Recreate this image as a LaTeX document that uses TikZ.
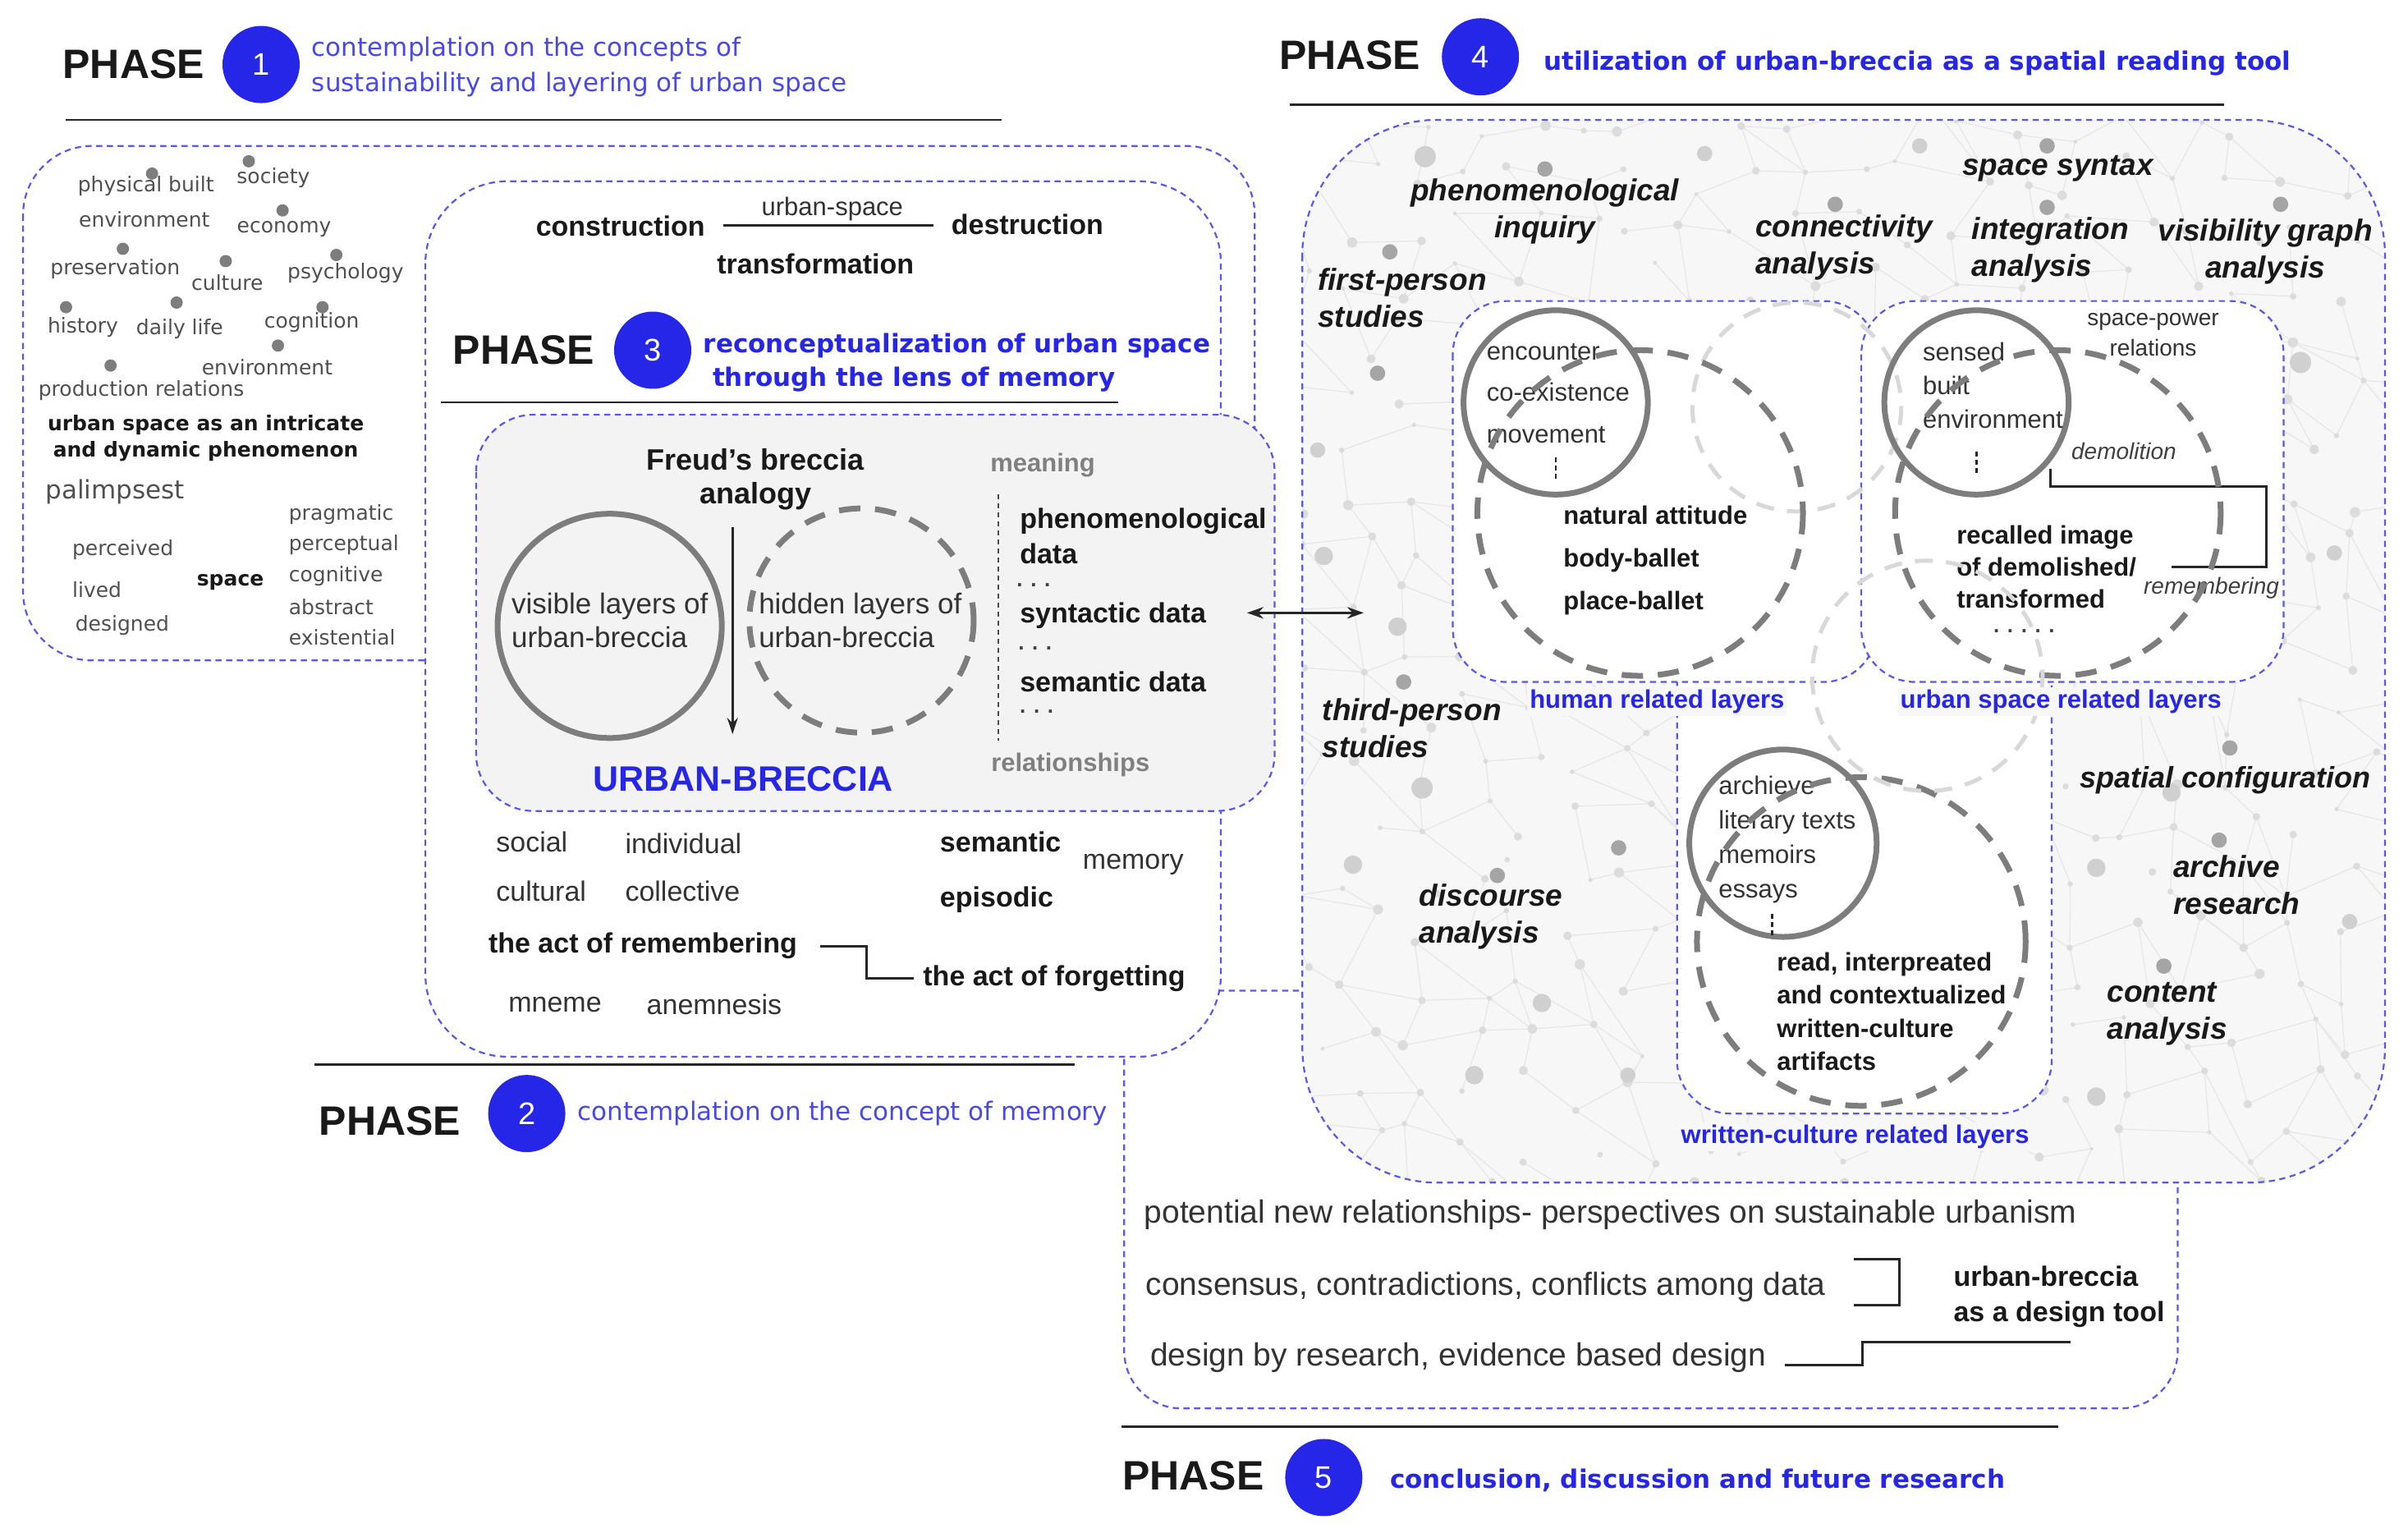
\documentclass[tikz,border=0pt]{standalone}
\usepackage{fontspec}
\setmainfont{Liberation Sans}
\newfontfamily\verd{DejaVu Sans}
\usetikzlibrary{arrows.meta,calc}
\definecolor{pblue}{RGB}{38,38,232}
\definecolor{tblue}{RGB}{72,72,236}
\definecolor{dblue}{RGB}{88,88,236}
\definecolor{cgray}{RGB}{125,125,125}
\definecolor{lgray}{RGB}{216,216,216}
\definecolor{tgray}{RGB}{80,80,80}
\definecolor{bgfill}{RGB}{247,247,247}
\definecolor{brfill}{RGB}{243,243,243}
\definecolor{netline}{RGB}{231,231,231}
\definecolor{netdot}{RGB}{220,220,220}
\definecolor{netdark}{RGB}{165,165,165}
\definecolor{netlight}{RGB}{208,208,208}
\tikzset{
 ph/.style={font=\bfseries\fontsize{50}{60}\selectfont, text=black!90},
 pnum/.style={circle, fill=pblue, minimum size=94pt, inner sep=0pt, text=white, font=\fontsize{38}{40}\selectfont},
 pd/.style={font=\verd\fontsize{31}{43}\selectfont, text=tblue, align=left, anchor=west},
 pdb/.style={font=\verd\bfseries\fontsize{31}{43}\selectfont, text=pblue, anchor=west},
 hline/.style={line width=2.8pt, black!85},
 pbox/.style={draw=dblue, line width=2.2pt, dash pattern=on 7.5pt off 5.5pt},
 wd/.style={font=\verd\fontsize{25}{30}\selectfont, text=tgray},
 wdb/.style={font=\verd\bfseries\fontsize{25}{32}\selectfont, text=black!90, align=center},
 pdot/.style={fill=cgray},
 t2/.style={font=\fontsize{34}{40}\selectfont, text=black!80, anchor=west},
 t2b/.style={font=\bfseries\fontsize{34}{40}\selectfont, text=black!90, anchor=west},
 t3/.style={font=\fontsize{31}{40}\selectfont, text=black!80},
 t3b/.style={font=\bfseries\fontsize{34}{43}\selectfont, text=black!90},
 gb/.style={font=\bfseries\fontsize{31}{40}\selectfont, text=black!50},
 t4/.style={font=\bfseries\itshape\fontsize{37}{45}\selectfont, text=black!90, align=left},
 s31/.style={font=\fontsize{31}{42}\selectfont, text=black!80, align=left, anchor=west},
 s31b/.style={font=\bfseries\fontsize{31}{40}\selectfont, text=black!90, align=left, anchor=west},
 s28/.style={font=\fontsize{28}{37}\selectfont, text=black!80, align=center},
 s28i/.style={font=\itshape\fontsize{28}{37}\selectfont, text=black!75},
 lbl/.style={font=\bfseries\fontsize{31}{36}\selectfont, text=pblue, fill=bgfill, inner sep=3pt},
 t5/.style={font=\fontsize{39}{45}\selectfont, text=black!80, anchor=west},
 t5b/.style={font=\bfseries\fontsize{34}{43}\selectfont, text=black!90, align=left, anchor=west},
 dts/.style={font=\bfseries\fontsize{26}{30}\selectfont, text=black!75},
 conn/.style={line width=3pt, black!85},
 solidc/.style={draw=cgray, line width=7pt},
 dashc/.style={draw=cgray, line width=7pt, dash pattern=on 26pt off 18pt},
 lightc/.style={draw=lgray, line width=5pt, dash pattern=on 22pt off 16pt},
 vdash/.style={line width=2pt, black!70, dash pattern=on 6pt off 5pt},
 vdash2/.style={line width=2.5pt, black!85, dash pattern=on 6pt off 4pt},
}
\begin{document}
\begin{tikzpicture}[x=1.8706pt,y=-1.8706pt, every node/.style={inner sep=0pt}]
\useasboundingbox (0,0) rectangle (1568,998);
\fill[white] (0,0) rectangle (1568,998);

% ---------------- phase 5 box (behind)
\draw[pbox, rounded corners=70pt] (732,645) rectangle (1418,917);

% ---------------- phase 4 box with network background
\begin{scope}
\clip[rounded corners=165pt] (848,78) rectangle (1553,770);
\fill[bgfill] (848,78) rectangle (1553,770);
\pgfmathsetseed{4242}
\foreach \i in {0,...,20}{
 \foreach \j in {0,...,20}{
  \pgfmathsetmacro\xx{836+\i*36+rnd*28}
  \pgfmathsetmacro\yy{66+\j*35+rnd*28}
  \coordinate (g-\i-\j) at (\xx,\yy);
 }}
\foreach \i in {0,...,19}{
 \foreach \j in {0,...,19}{
  \pgfmathtruncatemacro\ii{\i+1}
  \pgfmathtruncatemacro\jj{\j+1}
  \pgfmathtruncatemacro\ra{rnd<0.55}
  \pgfmathtruncatemacro\rb{rnd<0.55}
  \pgfmathtruncatemacro\rc{rnd<0.25}
  \ifnum\ra=1 \draw[netline, line width=1.3pt] (g-\i-\j) -- (g-\ii-\j); \fi
  \ifnum\rb=1 \draw[netline, line width=1.3pt] (g-\i-\j) -- (g-\i-\jj); \fi
  \ifnum\rc=1 \draw[netline, line width=1.3pt] (g-\i-\j) -- (g-\ii-\jj); \fi
 }}
\foreach \i in {0,...,20}{
 \foreach \j in {0,...,20}{
  \pgfmathsetmacro\rr{1.2+rnd*2.2}
  \fill[netdot] (g-\i-\j) circle [radius=\rr];
 }}
\foreach \x/\y/\r in {928/102/7, 926/513/7, 881/563/6, 1004/653/6, 1365/565/6, 1365/714/6, 1498/236/7, 858/293/5, 862/362/6, 910/408/6, 1520/360/5, 1414/516/6, 960/700/6, 1060/700/5, 1110/100/5, 1530/600/5, 1250/95/5}
  \fill[netlight] (\x,\y) circle [radius=\r];
\foreach \x/\y in {1006/110, 1333/95, 1195/133, 1333/135, 1485/133, 905/164, 897/243, 914/444, 1054/552, 975/570, 1452/487, 1445/547, 1409/629}
  \fill[netdark] (\x,\y) circle [radius=5];
\end{scope}
\draw[pbox, rounded corners=165pt] (848,78) rectangle (1553,770);

% ---------------- phase 1 box
\draw[pbox, rounded corners=84pt, fill=white] (15,95) rectangle (817,430);
% ---------------- phase 2/3 box
\draw[pbox, rounded corners=100pt, fill=white] (277,118) rectangle (795,688);
% ---------------- breccia box
\draw[pbox, rounded corners=70pt, fill=brfill] (310,270) rectangle (830,528);

% ---------------- phase headers
\node[ph] (ph1) at (87,42) {PHASE};
\node[pnum] (n1) at (170,42) {1};
\node[pd] (d1) at (203,43.5) {contemplation on the concepts of\\sustainability and layering of urban space};
\draw[hline] (43,78) -- (652,78);

\node[ph] (ph4) at (879,36) {PHASE};
\node[pnum] (n4) at (964,37) {4};
\node[pdb] (d4) at (1005,41) {utilization of urban-breccia as a spatial reading tool};
\draw[hline] (840,68) -- (1448,68);

\node[ph] (ph3) at (341,228) {PHASE};
\node[pnum] (n3) at (425,228) {3};
\node[pdb] (d3a) at (458,225) {reconceptualization of urban space};
\node[pdb] (d3b) at (464,247) {through the lens of memory};
\draw[hline] (287,262) -- (728,262);

\draw[hline] (205,693) -- (700,693);
\node[ph] (ph2) at (254,730) {PHASE};
\node[pnum] (n2) at (343,725) {2};
\node[pd] (d2) at (376,725) {contemplation on the concept of memory};

\draw[hline] (730,929) -- (1340,929);
\node[ph] (ph5) at (777,961) {PHASE};
\node[pnum] (n5) at (862,962) {5};
\node[pdb] (d5) at (905,964) {conclusion, discussion and future research};

% ---------------- phase 1 content
\foreach \x/\y in {99/113, 162/105, 184/137, 80/162, 147/170, 219/166, 43/200, 115/197, 210/200, 181/225, 72/238}
  \fill[pdot] (\x,\y) circle [radius=4];
\node[wd] (w1) at (95,121) {physical built};
\node[wd] (w2) at (94,143) {environment};
\node[wd] (w3) at (178,116) {society};
\node[wd] (w4) at (185,149) {economy};
\node[wd] (w5) at (75,175) {preservation};
\node[wd] (w6) at (148,184) {culture};
\node[wd] (w7) at (225,178) {psychology};
\node[wd] (w8) at (54,213) {history};
\node[wd] (w9) at (117,214) {daily life};
\node[wd] (w10) at (203,210) {cognition};
\node[wd] (w11) at (174,239) {environment};
\node[wd] (w12) at (92,254) {production relations};
\node[wdb] (w13) at (134,285.5) {urban space as an intricate\\and dynamic phenomenon};
\node[wd, font=\verd\fontsize{31}{36}\selectfont] (w14) at (75,320) {palimpsest};
\node[wd, anchor=west] (w15) at (47,358) {perceived};
\node[wd, anchor=west] (w16) at (47,384) {lived};
\node[wd, anchor=west] (w17) at (49,407) {designed};
\node[wd, text=black!90, font=\verd\bfseries\fontsize{25}{30}\selectfont] (w18) at (150,379) {space};
\node[wd, anchor=west] (w19) at (188,335) {pragmatic};
\node[wd, anchor=west] (w20) at (188,355) {perceptual};
\node[wd, anchor=west] (w21) at (188,375) {cognitive};
\node[wd, anchor=west] (w22) at (188,395) {abstract};
\node[wd, anchor=west] (w23) at (188,415) {existential};

% ---------------- phase 3 top
\node[t3b] (constr) at (404,147) {construction};
\node[t3] (uspace) at (542,136) {urban-space};
\node[t3b] (destr) at (669,146) {destruction};
\node[t3b] (transf) at (531,172) {transformation};
\draw[conn, shorten <=22pt, shorten >=22pt] (constr.east) -- (constr.east -| destr.west);

% ---------------- breccia box content
\node[t3b, align=center, font=\bfseries\fontsize{36}{41}\selectfont] (freud) at (492,312) {Freud's breccia\\analogy};
\draw[solidc] (397,407.5) circle [radius=73];
\draw[dashc] (561,404) circle [radius=73];
\node[s31, font=\fontsize{35}{41}\selectfont] (vis) at (333,404) {visible layers of\\urban-breccia};
\node[s31, font=\fontsize{35}{41}\selectfont] (hid) at (494,404) {hidden layers of\\urban-breccia};
\coordinate (arrA) at (477,343);
\coordinate (arrB) at (477,478);
\draw[conn, line width=2.6pt, -{Stealth[length=20pt,width=13pt]}] (arrA) -- (arrB);
\node[gb] (meaning) at (679,303) {meaning};
\coordinate (vA) at (650,322);
\coordinate (vB) at (650,482);
\draw[vdash] (vA) -- (vB);
\node[t3b, align=left, anchor=west] (phd) at (664,349) {phenomenological\\data};
\node[dts] (dt1) at (673,381) {. . .};
\node[t3b, anchor=west] (syn) at (664,401) {syntactic data};
\node[dts] (dt2) at (674,422) {. . .};
\node[t3b, anchor=west] (sem) at (664,444) {semantic data};
\node[dts] (dt3) at (675,463) {. . .};
\node[gb] (rel) at (697,498) {relationships};
\node[font=\bfseries\fontsize{43}{48}\selectfont, text=pblue] (ub) at (484,507) {URBAN-BRECCIA};

% ---------------- phase 2 content
\node[t2] (social) at (323,548) {social};
\node[t2] (indiv) at (407,549) {individual};
\node[t2] (cult) at (323,580) {cultural};
\node[t2] (coll) at (407,580) {collective};
\node[t2b] (seman) at (612,548) {semantic};
\node[t2] (memory) at (705,563) {memory};
\node[t2b] (episo) at (612,586) {episodic};
\node[t2b] (rem) at (318,616) {the act of remembering};
\node[t2b] (forg) at (601,637) {the act of forgetting};
\node[t2] (mneme) at (331,654) {mneme};
\node[t2] (anem) at (421,654) {anemnesis};
\draw[conn, shorten <=28pt, shorten >=11pt] (rem.east) -| ($(rem.east)!0.55!(forg.west)$) |- (forg.west);

% ---------------- double arrow
\coordinate (dA) at (812,399);
\coordinate (dB) at (888,399);
\draw[conn, {Stealth[length=20pt,width=14pt]}-{Stealth[length=20pt,width=14pt]}] (dA) -- (dB);

% ---------------- phase 4 method labels
\node[t4, anchor=center, align=center] (phinq) at (1006,137.5) {phenomenological\\inquiry};
\node[t4] (ssyn) at (1340,110) {space syntax};
\node[t4, anchor=west] (conan) at (1143,161) {connectivity\\analysis};
\node[t4, anchor=west] (intan) at (1284,162.5) {integration\\analysis};
\node[t4, align=center] (visan) at (1475,164) {visibility graph\\analysis};
\node[t4, anchor=west] (first) at (858,194) {first-person\\studies};
\node[t4, anchor=west] (third) at (861,474) {third-person\\studies};
\node[t4, font=\bfseries\itshape\fontsize{36}{45}\selectfont] (spconf) at (1449,508) {spatial configuration};
\node[t4, anchor=west] (archr) at (1415,576) {archive\\research};
\node[t4, anchor=west] (disc) at (924,597) {discourse\\analysis};
\node[t4, anchor=west] (cont) at (1372,660) {content\\analysis};

% ---------------- sub boxes
\draw[pbox, rounded corners=65pt, fill=white] (1092,380) rectangle (1336,725);
\draw[pbox, rounded corners=65pt, fill=white] (946,196) rectangle (1222,444);
\draw[pbox, rounded corners=65pt, fill=white] (1212,196) rectangle (1487,444);

% human related
\draw[solidc] (1013,262) circle [radius=60];
\node[s31, font=\fontsize{31}{50.5}\selectfont] (enc) at (968,256) {encounter\\co-existence\\movement};
\coordinate (hv1) at (1013,298);
\coordinate (hv2) at (1013,313);
\draw[vdash2] (hv1) -- (hv2);
\node[s31b, font=\bfseries\fontsize{31}{52}\selectfont] (nat) at (1018,365) {natural attitude\\body-ballet\\place-ballet};
\draw[lightc] (1170,265) circle [radius=68];
\draw[dashc] (1068,334) circle [radius=106];

% urban space related
\draw[solidc] (1287,262) circle [radius=60];
\node[s31, font=\fontsize{31}{41}\selectfont] (sensed) at (1252,251) {sensed\\built\\environment};
\coordinate (uv1) at (1287,294);
\coordinate (uv2) at (1287,308);
\draw[vdash2] (uv1) -- (uv2);
\node[s28] (spp) at (1402,218) {space-power\\relations};
\node[s28i] (demol) at (1383,294) {demolition};
\node[s31b, font=\bfseries\fontsize{31}{39}\selectfont] (recall) at (1274,369) {recalled image\\of demolished/\\transformed};
\node[dts] (udots) at (1318,411) {. . . . .};
\node[s28i] (remem) at (1440,383) {remembering};
\coordinate (cA) at (1335,305);
\coordinate (cC) at (1476,317);
\coordinate (cB) at (1414,369);
\draw[conn] (cA) |- (cC) |- (cB);
\draw[dashc] (1340,334) circle [radius=106];

% written culture related
\draw[solidc] (1161,549) circle [radius=61];
\node[s31, font=\fontsize{31}{42}\selectfont] (arch) at (1119,546.5) {archieve\\literary texts\\memoirs\\essays};
\coordinate (wv1) at (1154,595);
\coordinate (wv2) at (1154,610);
\draw[vdash2] (wv1) -- (wv2);
\node[s31b, font=\bfseries\fontsize{31}{40.5}\selectfont] (read) at (1157,658.5) {read, interpreated\\and contextualized\\written-culture\\artifacts};
\draw[dashc] (1212,613) circle [radius=107];
\draw[lightc] (1255,440) circle [radius=75];

% sub box labels
\node[lbl] (hlab) at (1079,457) {human related layers};
\node[lbl] (ulab) at (1342,457) {urban space related layers};
\node[lbl] (wlab) at (1208,740) {written-culture related layers};

% ---------------- phase 5 content
\node[t5] (pot) at (745,791) {potential new relationships- perspectives on sustainable urbanism};
\node[t5] (cons) at (746,838) {consensus, contradictions, conflicts among data};
\node[t5] (dbr) at (749,884) {design by research, evidence based design};
\node[t5b] (tool) at (1272,844.5) {urban-breccia\\as a design tool};
\coordinate (bk1) at (1207,820);
\coordinate (bk2) at (1237,850);
\coordinate (bk3) at (1207,850);
\draw[conn] (bk1) -| (bk2) -- (bk3);
\coordinate (dl1) at (1162,889);
\coordinate (dl2) at (1348,874);
\draw[conn] (dl1) -| ($(dl2)+(-135,0)$) -- (dl2);
\end{tikzpicture}
\end{document}
